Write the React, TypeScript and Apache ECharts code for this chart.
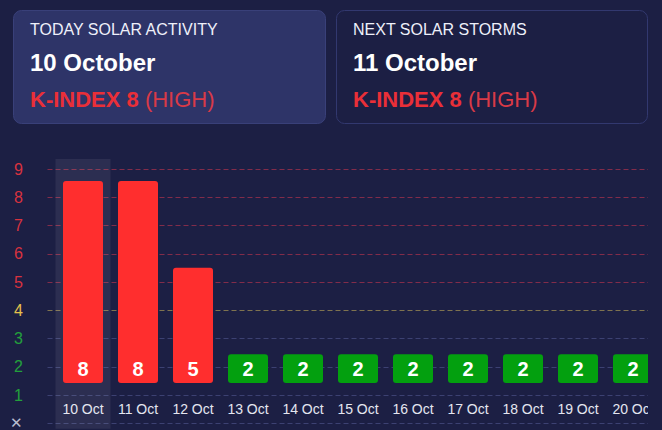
import React, { useEffect, useRef } from 'react';
import * as echarts from 'echarts';

// forecast days and K-index per day
const days = ['10 Oct', '11 Oct', '12 Oct', '13 Oct', '14 Oct', '15 Oct', '16 Oct', '17 Oct', '18 Oct', '19 Oct', '20 Oct'];
const kIndex = [8, 8, 5, 2, 2, 2, 2, 2, 2, 2, 2];

// y axis levels 0..9 (0 shows a cross)
const levelLabels = ['✕', '1', '2', '3', '4', '5', '6', '7', '8', '9'];

// info cards
const cardTitles = ['TODAY SOLAR ACTIVITY', 'NEXT SOLAR STORMS'];
const cardDates = ['10 October', '11 October'];
const cardK = [8, 8];
const cardLevels = ['HIGH', 'HIGH'];

const BG = '#1c1f44';
const FONT = '"Liberation Sans", Arial, sans-serif';

const barColor = (v: number) => (v >= 5 ? '#ff2e2e' : v === 4 ? '#f0c030' : '#03a00f');
const levelStyle = (v: number) => (v === 0 ? 'x' : v >= 5 ? 'r' : v === 4 ? 'y' : 'g');
const lineColor = (v: number) =>
  v >= 5 ? 'rgba(215,55,80,0.55)' : v === 4 ? 'rgba(225,200,90,0.5)' : 'rgba(120,130,200,0.35)';

const App: React.FC = () => {
  const chartRef = useRef<HTMLDivElement>(null);

  useEffect(() => {
    if (!chartRef.current) return;
    const chart = echarts.init(chartRef.current, undefined, { renderer: 'svg' });

    const cardX = [13.5, 336.5];
    const cardW = [312, 311];
    const cards: any[] = [];
    cardTitles.forEach((t, i) => {
      cards.push({
        type: 'rect',
        shape: { x: cardX[i], y: 10.5, width: cardW[i], height: 113, r: 8 },
        style: i === 0 ? { fill: '#2e3468', stroke: '#394079', lineWidth: 1 } : { fill: BG, stroke: '#32386f', lineWidth: 1 }
      });
      const tx = cardX[i] + 16.5;
      cards.push({
        type: 'text',
        style: { text: t, x: tx, y: 29, fill: '#eef0fa', font: `16px ${FONT}`, verticalAlign: 'middle' }
      });
      cards.push({
        type: 'text',
        style: { text: cardDates[i], x: tx, y: 62.5, fill: '#ffffff', font: `bold 24px ${FONT}`, verticalAlign: 'middle' }
      });
      cards.push({
        type: 'text',
        style: {
          text: `{b|K-INDEX ${cardK[i]} }{n|(${cardLevels[i]})}`,
          x: tx,
          y: 99.5,
          verticalAlign: 'middle',
          rich: {
            b: { fill: '#ea2f38', font: `bold 22px ${FONT}` },
            n: { fill: '#d93a47', font: `22px ${FONT}` }
          }
        }
      });
    });

    const lab = (color: string) => ({ color, fontSize: 16, fontFamily: FONT });

    const option = {
      animation: false,
      backgroundColor: BG,
      textStyle: { fontFamily: FONT },
      graphic: cards,
      grid: [
        { left: 47.5, right: 19.5, top: 159, bottom: 1.16 },
        { left: 55.5, right: 19.5, top: 159, bottom: 1.16 },
        { left: 55.5, right: 19.5, top: 159, bottom: 47 }
      ],
      xAxis: [
        { type: 'category', gridIndex: 0, data: days, show: false },
        {
          type: 'category',
          gridIndex: 1,
          data: days,
          axisLine: { show: false },
          axisTick: { show: false },
          axisLabel: { show: false },
          splitLine: { show: false },
          axisPointer: {
            show: true,
            type: 'shadow',
            value: 0,
            status: 'show',
            z: 1,
            triggerTooltip: false,
            label: { show: false },
            shadowStyle: { color: 'rgba(255,255,255,0.07)' }
          }
        },
        {
          type: 'category',
          gridIndex: 2,
          data: days,
          axisLine: { show: false },
          axisTick: { show: false },
          axisLabel: { color: '#e4e6f0', fontSize: 14, margin: 19 }
        }
      ],
      yAxis: [
        {
          type: 'value',
          gridIndex: 0,
          min: 0,
          max: 9.358,
          interval: 1,
          axisLine: { show: false },
          axisTick: { show: false },
          axisLabel: {
            align: 'right',
            margin: 24.5,
            formatter: (v: number) => {
              if (!Number.isInteger(v)) return '';
              return '{' + levelStyle(v) + '|' + levelLabels[v] + '}';
            },
            rich: {
              r: lab('#d8323f'),
              y: lab('#e5c04c'),
              g: lab('#23a03c'),
              x: { color: '#b8bccf', fontSize: 15, padding: [0, 0, 2, 0] }
            }
          },
          splitLine: {
            show: true,
            showMaxLine: false,
            lineStyle: { type: [5, 3], width: 1, color: levelLabels.map((_, i) => lineColor(i)) }
          }
        },
        { type: 'value', gridIndex: 1, min: 0, max: 1, show: false },
        { type: 'value', gridIndex: 2, min: 1, max: 8.767, show: false }
      ],
      series: [
        {
          type: 'bar',
          xAxisIndex: 2,
          yAxisIndex: 2,
          barWidth: 40,
          z: 3,
          data: kIndex.map((v) => ({ value: v, itemStyle: { color: barColor(v) } })),
          itemStyle: { borderRadius: 3 },
          label: {
            show: true,
            position: 'insideBottom',
            distance: 4,
            color: '#ffffff',
            fontSize: 20,
            fontWeight: 'bold'
          }
        }
      ]
    };

    chart.setOption(option);
    return () => {
      chart.dispose();
    };
  }, []);

  return (
    <div style={{ position: 'fixed', left: 0, top: 0, width: 662, height: 430, background: BG, overflow: 'hidden' }}>
      <div style={{ width: 648, height: 430, overflow: 'hidden' }}>
        <div ref={chartRef} style={{ width: 680, height: 430 }} />
      </div>
    </div>
  );
};

export default App;
